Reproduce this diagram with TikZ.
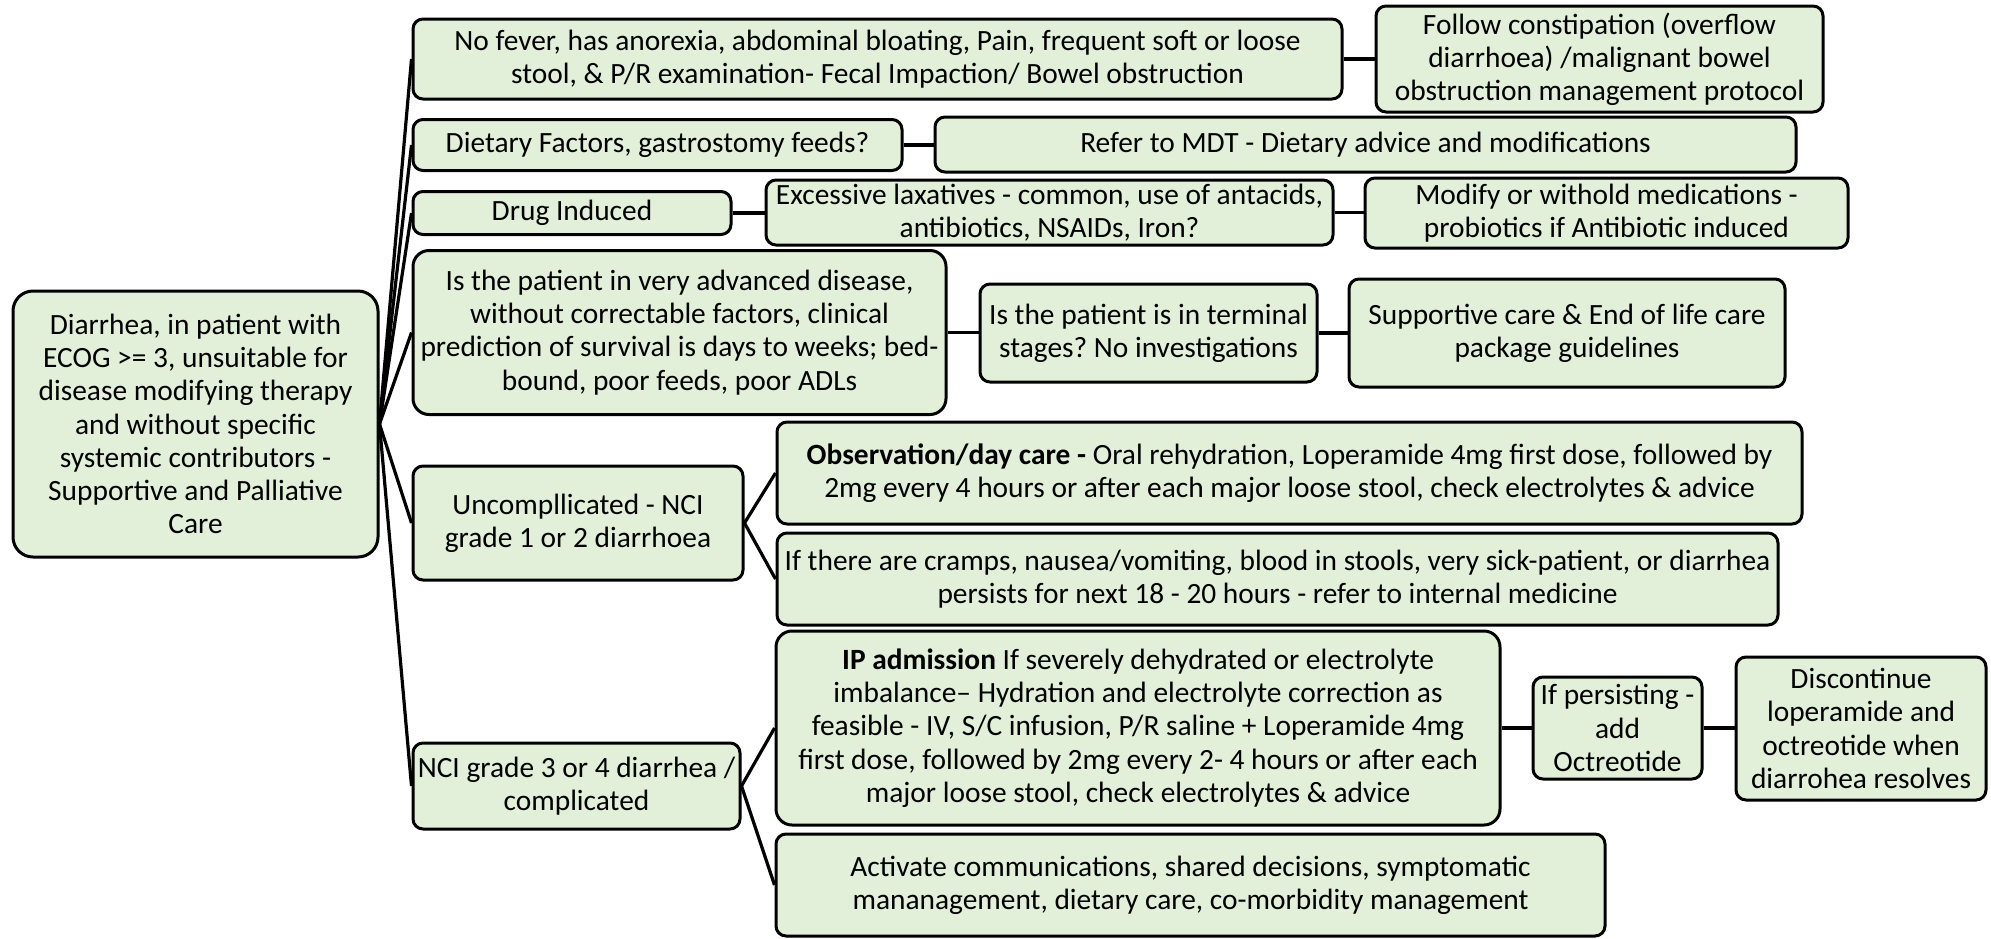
\documentclass[tikz,border=0pt]{standalone}
\usepackage{fontspec}
\setmainfont{Carlito}
\frenchspacing
\definecolor{boxfill}{HTML}{E2EFD9}
\tikzset{
  box/.style={draw=black, line width=1.5pt, fill=boxfill, rounded corners=5pt,
    align=center, inner sep=0pt, font=\fontsize{14.7}{16.6}\selectfont},
  conn/.style={draw=black, line width=1.6pt},
}
\begin{document}
\begin{tikzpicture}[x=0.5pt,y=-0.5pt]
\useasboundingbox (0,0) rectangle (1991,938);
% root
\node[box, rounded corners=10pt, minimum width=182.5pt, minimum height=133pt] (root) at (195.5,424)
 {Diarrhea, in patient with\\ECOG >= 3, unsuitable for\\disease modifying therapy\\and without specific\\systemic contributors -\\Supportive and Palliative\\Care};
% level 1
\node[box, minimum width=464.5pt, minimum height=40pt] (a1) at (877.5,59)
 {No fever, has anorexia, abdominal bloating, Pain, frequent soft or loose\\stool, \& P/R examination- Fecal Impaction/ Bowel obstruction};
\node[box, minimum width=244.5pt, minimum height=25.5pt] (a2) at (657.5,145)
 {Dietary Factors, gastrostomy feeds?};
\node[box, minimum width=159pt, minimum height=21.5pt] (a3) at (572,213)
 {Drug Induced};
\node[box, rounded corners=8pt, minimum width=266.5pt, minimum height=82pt] (a4) at (679.5,332.5)
 {Is the patient in very advanced disease,\\without correctable factors, clinical\\prediction of survival is days to weeks; bed-\\bound, poor feeds, poor ADLs};
\node[box, minimum width=165pt, minimum height=57pt] (a5) at (578,523)
 {Uncompllicated - NCI\\grade 1 or 2 diarrhoea};
\node[box, minimum width=163.5pt, minimum height=43pt] (a6) at (576.5,786)
 {NCI grade 3 or 4 diarrhea /\\complicated};
% level 2
\node[box, minimum width=223.5pt, minimum height=53pt] (b1) at (1599.5,59)
 {Follow constipation (overflow\\diarrhoea) /malignant bowel\\obstruction management protocol};
\node[box, minimum width=430.5pt, minimum height=27.5pt] (b2) at (1365.5,144.5)
 {Refer to MDT - Dietary advice and modifications};
\node[box, minimum width=283.5pt, minimum height=32.5pt] (b3) at (1049.5,212.5)
 {Excessive laxatives - common, use of antacids,\\antibiotics, NSAIDs, Iron?};
\node[box, minimum width=241.5pt, minimum height=35pt] (c3) at (1606.5,213)
 {Modify or withold medications -\\probiotics if Antibiotic induced};
\node[box, minimum width=168.5pt, minimum height=49pt] (b4) at (1148.5,333)
 {Is the patient is in terminal\\stages? No investigations};
\node[box, minimum width=218pt, minimum height=54pt] (c4) at (1567,333)
 {Supportive care \& End of life care\\package guidelines};
\node[box, minimum width=512.5pt, minimum height=51pt] (b5a) at (1289.5,473)
 {\textbf{Observation/day care -} Oral rehydration, Loperamide 4mg first dose, followed by\\2mg every 4 hours or after each major loose stool, check electrolytes \& advice};
\node[box, minimum width=500.5pt, minimum height=46pt] (b5b) at (1277.5,579)
 {If there are cramps, nausea/vomiting, blood in stools, very sick-patient, or diarrhea\\persists for next 18 - 20 hours - refer to internal medicine};
\node[box, rounded corners=8pt, minimum width=362pt, minimum height=97pt] (b6a) at (1138,728)
 {\textbf{IP admission} If severely dehydrated or electrolyte\\imbalance– Hydration and electrolyte correction as\\feasible - IV, S/C infusion, P/R saline + Loperamide 4mg\\first dose, followed by 2mg every 2- 4 hours or after each\\major loose stool, check electrolytes \& advice};
\node[box, minimum width=414.5pt, minimum height=51pt] (b6b) at (1190.5,885)
 {Activate communications, shared decisions, symptomatic\\mananagement, dietary care, co-morbidity management};
\node[box, minimum width=84.5pt, minimum height=51pt] (c6) at (1617.5,728)
 {If persisting -\\add\\Octreotide};
\node[box, minimum width=125pt, minimum height=71.5pt] (d6) at (1861,728.5)
 {Discontinue\\loperamide and\\octreotide when\\diarrohea resolves};
% connectors
\foreach \t in {a1,a2,a3,a4,a5,a6} {\draw[conn] (root.east) -- (\t.west);}
\draw[conn] (a1.east) -- (b1.west |- a1.east);
\draw[conn] (a2.east) -- (b2.west |- a2.east);
\draw[conn] (a3.east) -- (b3.west |- a3.east);
\draw[conn] (b3.east) -- (c3.west |- b3.east);
\draw[conn] (a4.east) -- (b4.west |- a4.east);
\draw[conn] (b4.east) -- (c4.west |- b4.east);
\draw[conn] (a5.east) -- (b5a.west);
\draw[conn] (a5.east) -- (b5b.west);
\draw[conn] (a6.east) -- (b6a.west);
\draw[conn] (a6.east) -- (b6b.west);
\draw[conn] (b6a.east) -- (c6.west |- b6a.east);
\draw[conn] (c6.east) -- (d6.west |- c6.east);
\end{tikzpicture}
\end{document}
